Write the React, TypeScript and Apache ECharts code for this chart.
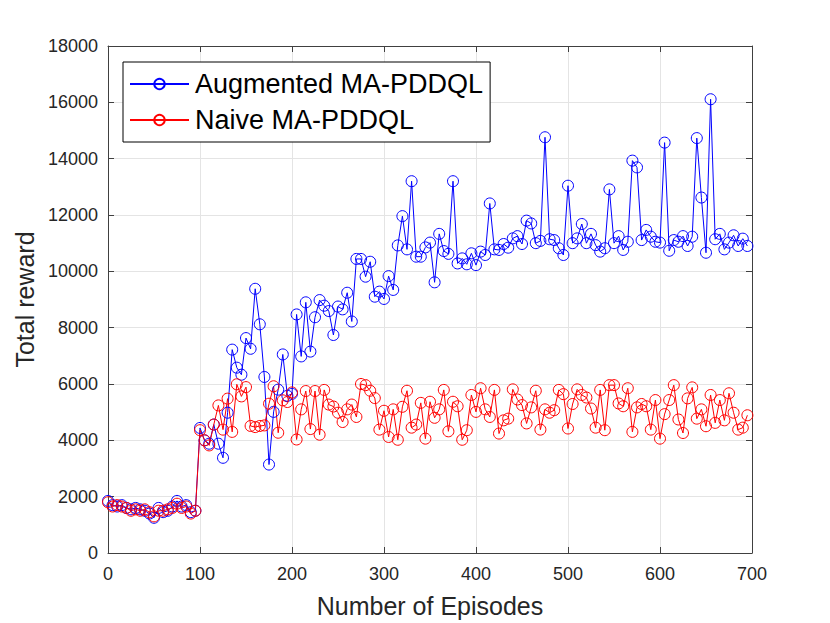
import React, { useEffect, useRef } from "react";
import * as echarts from "echarts";

const episodes = [
  0, 5, 10, 15, 20, 25, 30, 35, 40, 45, 50, 55, 60, 65, 70, 75, 80, 85, 90, 95,
  100, 105, 110, 115, 120, 125, 130, 135, 140, 145, 150, 155, 160, 165, 170, 175, 180, 185, 190, 195,
  200, 205, 210, 215, 220, 225, 230, 235, 240, 245, 250, 255, 260, 265, 270, 275, 280, 285, 290, 295,
  300, 305, 310, 315, 320, 325, 330, 335, 340, 345, 350, 355, 360, 365, 370, 375, 380, 385, 390, 395,
  400, 405, 410, 415, 420, 425, 430, 435, 440, 445, 450, 455, 460, 465, 470, 475, 480, 485, 490, 495,
  500, 505, 510, 515, 520, 525, 530, 535, 540, 545, 550, 555, 560, 565, 570, 575, 580, 585, 590, 595,
  600, 605, 610, 615, 620, 625, 630, 635, 640, 645, 650, 655, 660, 665, 670, 675, 680, 685, 690, 695,
];

const augmented = [
  1850, 1700, 1650, 1700, 1600, 1550, 1600, 1550, 1500, 1400, 1250, 1600, 1450, 1500, 1650, 1850, 1650, 1700, 1450, 1500,
  4440, 4000, 3880, 4560, 3880, 3380, 4980, 7220, 6580, 6330, 7630, 7250, 9380, 8120, 6250, 3140, 5010, 5800, 7050, 5580,
  5650, 8470, 6980, 8900, 7150, 8370, 8980, 8780, 8590, 7740, 8750, 8650, 9240, 8220, 10440, 10440, 9810, 10340, 9100, 9280,
  9020, 9830, 9340, 10920, 11960, 10780, 13200, 10520, 10520, 10850, 11020, 9610, 11330, 10720, 10620, 13200, 10280, 10460, 10250, 10640,
  10220, 10700, 10580, 12410, 10780, 10760, 10970, 10840, 11170, 11250, 10970, 11800, 11700, 11000, 11080, 14760, 11140, 11110, 10820, 10580,
  13040, 11000, 11170, 11680, 11000, 11330, 10930, 10700, 10820, 12910, 11000, 11250, 10760, 11050, 13930, 13690, 11110, 11470, 11230, 11050,
  11020, 14570, 10730, 11110, 11050, 11250, 10900, 11230, 14730, 12620, 10660, 16110, 11140, 11330, 10780, 11020, 11280, 10900, 11160, 10900,
];

const naive = [
  1800, 1650, 1700, 1650, 1600, 1500, 1550, 1500, 1550, 1450, 1300, 1500, 1500, 1550, 1600, 1750, 1600, 1650, 1400, 1500,
  4360, 4000, 3820, 4560, 5240, 4380, 5480, 4300, 5990, 5560, 5890, 4510, 4470, 4510, 4530, 5300, 5920, 4270, 5420, 5360,
  5700, 4030, 5100, 5750, 4400, 5750, 4200, 5790, 5270, 5200, 4980, 4650, 5100, 5270, 4830, 6000, 5960, 5760, 5500, 4380,
  5050, 4120, 5100, 4020, 5190, 5760, 4450, 4560, 5330, 4060, 5370, 4800, 5100, 5790, 4320, 5370, 5210, 4020, 4360, 5610,
  5010, 5850, 5100, 4830, 5790, 4240, 4710, 4770, 5810, 5450, 5250, 4600, 5170, 5760, 4380, 5100, 4980, 5070, 5790, 5640,
  4420, 5290, 5810, 5610, 5520, 5130, 4450, 5790, 4360, 5960, 5960, 5310, 5210, 5850, 4300, 5170, 5290, 5210, 4380, 5430,
  4060, 4930, 5430, 5960, 4740, 4260, 5490, 5880, 4770, 5100, 4500, 5610, 4620, 5430, 4710, 5670, 4980, 4380, 4450, 4890,
];

const seriesNames = ["Augmented MA-PDDQL", "Naive MA-PDDQL"];
const xTitle = "Number of Episodes";
const yTitle = "Total reward";

const FONT = "'Liberation Sans', Arial, Helvetica, sans-serif";
const AXIS_COLOR = "#404040";
const GRID_COLOR = "#e4e4e4";

export default function App() {
  const ref = useRef<HTMLDivElement>(null);

  useEffect(() => {
    if (!ref.current) return;
    const chart = echarts.init(ref.current, null, { renderer: "svg" });

    const makeX = (pos: "bottom" | "top", main: boolean) => ({
      type: "value" as const,
      position: pos,
      min: 0,
      max: 700,
      interval: 100,
      name: main ? xTitle : "",
      nameLocation: "middle" as const,
      nameGap: 40,
      nameTextStyle: { fontSize: 25, color: "#262626", fontFamily: FONT },
      axisLine: { show: true, onZero: false, lineStyle: { color: AXIS_COLOR, width: 1 } },
      axisTick: { show: true, inside: true, length: 6, lineStyle: { color: AXIS_COLOR } },
      axisLabel: {
        show: main,
        margin: 12,
        fontSize: 18,
        color: "#262626",
        fontFamily: FONT,
        formatter: (v: number) => String(v),
      },
      splitLine: { show: main, lineStyle: { color: GRID_COLOR, width: 1 } },
    });

    const makeY = (pos: "left" | "right", main: boolean) => ({
      type: "value" as const,
      position: pos,
      min: 0,
      max: 18000,
      interval: 2000,
      name: main ? yTitle : "",
      nameLocation: "middle" as const,
      nameGap: 63,
      nameTextStyle: { fontSize: 25, color: "#262626", fontFamily: FONT },
      axisLine: { show: true, onZero: false, lineStyle: { color: AXIS_COLOR, width: 1 } },
      axisTick: { show: true, inside: true, length: 6, lineStyle: { color: AXIS_COLOR } },
      axisLabel: {
        show: main,
        margin: 10,
        fontSize: 18,
        color: "#262626",
        fontFamily: FONT,
        formatter: (v: number) => String(v),
      },
      splitLine: { show: main, lineStyle: { color: GRID_COLOR, width: 1 } },
    });

    const mkSeries = (name: string, vals: number[], color: string) => ({
      name,
      type: "line" as const,
      xAxisIndex: 0,
      yAxisIndex: 0,
      data: episodes.map((e, i) => [e, vals[i]]),
      symbol: "circle",
      symbolSize: 11,
      showAllSymbol: true,
      lineStyle: { color, width: 1 },
      itemStyle: { color: "rgba(255,255,255,0)", borderColor: color, borderWidth: 1 },
      emphasis: { disabled: true },
    });

    chart.setOption({
      animation: false,
      backgroundColor: "#ffffff",
      textStyle: { fontFamily: FONT },
      grid: { left: 108, right: 78, top: 46, bottom: 70, containLabel: false },
      xAxis: [makeX("bottom", true), makeX("top", false)],
      yAxis: [makeY("left", true), makeY("right", false)],
      legend: {
        show: true,
        orient: "vertical",
        left: 123,
        top: 62,
        itemWidth: 59,
        itemHeight: 13,
        itemGap: 6,
        padding: [7, 7, 7, 6],
        borderColor: "#000000",
        borderWidth: 1,
        borderRadius: 0,
        backgroundColor: "#ffffff",
        data: seriesNames,
        textStyle: {
          fontSize: 27,
          color: "#000000",
          fontFamily: FONT,
          lineHeight: 30,
          padding: [0, 0, 0, 1],
        },
      },
      series: [
        mkSeries(seriesNames[0], augmented, "#0000ff"),
        mkSeries(seriesNames[1], naive, "#ff0000"),
      ],
    });

    return () => chart.dispose();
  }, []);

  return (
    <div
      ref={ref}
      style={{ position: "fixed", left: 0, top: 0, width: 830, height: 623, background: "#fff" }}
    />
  );
}
